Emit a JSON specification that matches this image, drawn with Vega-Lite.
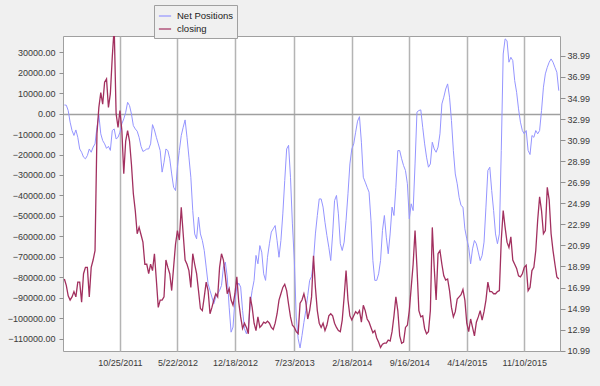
{
  "$schema": "https://vega.github.io/schema/vega-lite/v6.json",
  "width": 497,
  "height": 315,
  "autosize": {"type": "none"},
  "padding": {"left": 63, "top": 36, "right": 40, "bottom": 35},
  "background": "#f0f0f0",
  "config": {
    "view": {"fill": "white", "stroke": "#a0a0a0", "strokeWidth": 1},
    "font": "Liberation Sans",
    "axis": {"labelFont": "Liberation Sans", "labelFontSize": 9, "labelColor": "#3a3a3a", "domain": false, "tickColor": "#909090", "title": null}
  },
  "data": {"values": [
    {"d":"2011-04-05","n":4200,"c":17.8},{"d":"2011-04-12","n":4100,"c":17.2},{"d":"2011-04-19","n":1500,"c":16.2},{"d":"2011-04-26","n":-4200,"c":15.8},
    {"d":"2011-05-03","n":-8300,"c":16.1},{"d":"2011-05-10","n":-10700,"c":16.6},{"d":"2011-05-17","n":-8000,"c":16.1},{"d":"2011-05-24","n":-11600,"c":17.5},{"d":"2011-05-31","n":-17300,"c":17.5},
    {"d":"2011-06-07","n":-18900,"c":15.6},{"d":"2011-06-14","n":-21300,"c":18.3},{"d":"2011-06-21","n":-22100,"c":18.9},{"d":"2011-06-28","n":-20500,"c":18.9},
    {"d":"2011-07-05","n":-17300,"c":16.1},{"d":"2011-07-12","n":-18900,"c":18.9},{"d":"2011-07-19","n":-16400,"c":19.6},{"d":"2011-07-26","n":-14800,"c":20.5},
    {"d":"2011-08-02","n":-6700,"c":31.6},{"d":"2011-08-09","n":-800,"c":34.1},{"d":"2011-08-16","n":-9900,"c":35.5},{"d":"2011-08-23","n":-13200,"c":34.4},{"d":"2011-08-30","n":-14800,"c":36.5},
    {"d":"2011-09-06","n":-17000,"c":36.8},{"d":"2011-09-13","n":-16000,"c":34.1},{"d":"2011-09-20","n":-18000,"c":35.4},{"d":"2011-09-27","n":-8300,"c":38.9},
    {"d":"2011-10-04","n":-7500,"c":41.7},{"d":"2011-10-11","n":-12400,"c":33.5},{"d":"2011-10-18","n":-11600,"c":32.2},{"d":"2011-10-25","n":-9100,"c":33.8},
    {"d":"2011-11-01","n":-5000,"c":31.9},{"d":"2011-11-08","n":-2600,"c":27.8},{"d":"2011-11-15","n":600,"c":30.9},{"d":"2011-11-22","n":5500,"c":31.9},{"d":"2011-11-29","n":3900,"c":30.9},
    {"d":"2011-12-06","n":-200,"c":28.7},{"d":"2011-12-13","n":-5900,"c":25.9},{"d":"2011-12-20","n":-7500,"c":24.3},{"d":"2011-12-27","n":-8600,"c":22.1},
    {"d":"2012-01-03","n":-11600,"c":22.7},{"d":"2012-01-10","n":-16000,"c":22.0},{"d":"2012-01-17","n":-18500,"c":21.3},{"d":"2012-01-24","n":-18000,"c":19.2},{"d":"2012-01-31","n":-17300,"c":19.2},
    {"d":"2012-02-07","n":-17300,"c":18.3},{"d":"2012-02-14","n":-14800,"c":19.2},{"d":"2012-02-21","n":-5400,"c":18.6},{"d":"2012-02-28","n":-8000,"c":20.2},
    {"d":"2012-03-06","n":-11600,"c":17.7},{"d":"2012-03-13","n":-14800,"c":15.1},{"d":"2012-03-20","n":-18100,"c":15.8},{"d":"2012-03-27","n":-28600,"c":15.8},
    {"d":"2012-04-03","n":-23800,"c":16.1},{"d":"2012-04-10","n":-17300,"c":19.6},{"d":"2012-04-17","n":-18100,"c":18.9},{"d":"2012-04-24","n":-22100,"c":18.3},
    {"d":"2012-05-01","n":-29500,"c":16.7},{"d":"2012-05-08","n":-36000,"c":18.9},{"d":"2012-05-15","n":-37600,"c":21.1},{"d":"2012-05-22","n":-26200,"c":22.4},{"d":"2012-05-29","n":-18100,"c":21.5},
    {"d":"2012-06-05","n":-10700,"c":24.6},{"d":"2012-06-12","n":-6700,"c":22.1},{"d":"2012-06-19","n":-3100,"c":19.6},{"d":"2012-06-26","n":-11600,"c":19.2},
    {"d":"2012-07-03","n":-21300,"c":18.6},{"d":"2012-07-10","n":-31100,"c":17.0},{"d":"2012-07-17","n":-47400,"c":20.2},{"d":"2012-07-24","n":-58800,"c":19.2},{"d":"2012-07-31","n":-61200,"c":18.3},
    {"d":"2012-08-07","n":-50600,"c":16.7},{"d":"2012-08-14","n":-58800,"c":15.0},{"d":"2012-08-21","n":-62000,"c":14.8},{"d":"2012-08-28","n":-66900,"c":16.1},
    {"d":"2012-09-04","n":-75000,"c":17.5},{"d":"2012-09-11","n":-83200,"c":16.7},{"d":"2012-09-18","n":-86400,"c":14.5},{"d":"2012-09-25","n":-89700,"c":15.1},
    {"d":"2012-10-02","n":-92900,"c":15.8},{"d":"2012-10-09","n":-89700,"c":16.4},{"d":"2012-10-16","n":-88100,"c":16.1},{"d":"2012-10-23","n":-86400,"c":18.9},{"d":"2012-10-30","n":-84000,"c":20.2},
    {"d":"2012-11-06","n":-75000,"c":19.6},{"d":"2012-11-13","n":-72600,"c":18.1},{"d":"2012-11-20","n":-79900,"c":16.4},{"d":"2012-11-27","n":-94600,"c":16.9},
    {"d":"2012-12-04","n":-106800,"c":15.8},{"d":"2012-12-11","n":-104300,"c":15.3},{"d":"2012-12-18","n":-91300,"c":16.4},{"d":"2012-12-25","n":-84800,"c":18.0},
    {"d":"2013-01-01","n":-82800,"c":15.6},{"d":"2013-01-08","n":-84800,"c":14.2},{"d":"2013-01-15","n":-96200,"c":13.1},{"d":"2013-01-22","n":-105100,"c":13.6},{"d":"2013-01-29","n":-107600,"c":13.2},
    {"d":"2013-02-05","n":-104300,"c":12.6},{"d":"2013-02-12","n":-92900,"c":16.1},{"d":"2013-02-19","n":-86400,"c":15.1},{"d":"2013-02-26","n":-81500,"c":13.6},
    {"d":"2013-03-05","n":-69300,"c":12.9},{"d":"2013-03-12","n":-73400,"c":14.2},{"d":"2013-03-19","n":-64500,"c":13.2},{"d":"2013-03-26","n":-67700,"c":13.4},
    {"d":"2013-04-02","n":-78300,"c":13.7},{"d":"2013-04-09","n":-81500,"c":13.6},{"d":"2013-04-16","n":-70200,"c":13.8},{"d":"2013-04-23","n":-63600,"c":13.6},{"d":"2013-04-30","n":-57900,"c":13.2},
    {"d":"2013-05-07","n":-56300,"c":13.0},{"d":"2013-05-14","n":-54700,"c":13.6},{"d":"2013-05-21","n":-62000,"c":14.5},{"d":"2013-05-28","n":-70200,"c":15.8},
    {"d":"2013-06-04","n":-62000,"c":16.4},{"d":"2013-06-11","n":-49000,"c":17.0},{"d":"2013-06-18","n":-32700,"c":17.3},{"d":"2013-06-25","n":-17300,"c":16.7},
    {"d":"2013-07-02","n":-15500,"c":15.4},{"d":"2013-07-09","n":-31100,"c":14.2},{"d":"2013-07-16","n":-53900,"c":13.4},{"d":"2013-07-23","n":-71800,"c":13.2},{"d":"2013-07-30","n":-99400,"c":12.8},
    {"d":"2013-08-06","n":-110000,"c":12.6},{"d":"2013-08-13","n":-114500,"c":15.5},{"d":"2013-08-20","n":-108500,"c":15.8},{"d":"2013-08-27","n":-102000,"c":16.4},
    {"d":"2013-09-03","n":-96200,"c":15.6},{"d":"2013-09-10","n":-88900,"c":14.0},{"d":"2013-09-17","n":-81500,"c":14.8},{"d":"2013-09-24","n":-79600,"c":16.1},
    {"d":"2013-10-01","n":-71800,"c":20.0},{"d":"2013-10-08","n":-58800,"c":17.0},{"d":"2013-10-15","n":-49800,"c":14.8},{"d":"2013-10-22","n":-41700,"c":13.6},{"d":"2013-10-29","n":-41700,"c":13.2},
    {"d":"2013-11-05","n":-45700,"c":13.6},{"d":"2013-11-12","n":-53100,"c":12.9},{"d":"2013-11-19","n":-59600,"c":13.4},{"d":"2013-11-26","n":-65300,"c":14.3},
    {"d":"2013-12-03","n":-71800,"c":14.5},{"d":"2013-12-10","n":-58800,"c":14.3},{"d":"2013-12-17","n":-42500,"c":13.6},{"d":"2013-12-24","n":-40000,"c":13.2},{"d":"2013-12-31","n":-49000,"c":12.9},
    {"d":"2014-01-07","n":-63600,"c":12.8},{"d":"2014-01-14","n":-66900,"c":13.9},{"d":"2014-01-21","n":-62800,"c":16.1},{"d":"2014-01-28","n":-52200,"c":18.6},
    {"d":"2014-02-04","n":-39200,"c":15.8},{"d":"2014-02-11","n":-24600,"c":14.3},{"d":"2014-02-18","n":-17300,"c":13.9},{"d":"2014-02-25","n":-14800,"c":14.3},
    {"d":"2014-03-04","n":-9100,"c":14.7},{"d":"2014-03-11","n":-3700,"c":14.5},{"d":"2014-03-18","n":-1500,"c":14.8},{"d":"2014-03-25","n":-14000,"c":13.7},
    {"d":"2014-04-01","n":-31100,"c":15.3},{"d":"2014-04-08","n":-33500,"c":14.8},{"d":"2014-04-15","n":-36000,"c":14.0},{"d":"2014-04-22","n":-38400,"c":13.7},{"d":"2014-04-29","n":-52200,"c":13.2},
    {"d":"2014-05-06","n":-71800,"c":12.7},{"d":"2014-05-13","n":-81500,"c":12.9},{"d":"2014-05-20","n":-81500,"c":12.2},{"d":"2014-05-27","n":-78300,"c":11.8},
    {"d":"2014-06-03","n":-71800,"c":11.3},{"d":"2014-06-10","n":-57100,"c":11.6},{"d":"2014-06-17","n":-49800,"c":11.7},{"d":"2014-06-24","n":-60400,"c":11.7},
    {"d":"2014-07-01","n":-68500,"c":12.0},{"d":"2014-07-08","n":-58800,"c":11.9},{"d":"2014-07-15","n":-45700,"c":12.8},{"d":"2014-07-22","n":-49800,"c":14.3},{"d":"2014-07-29","n":-36000,"c":16.1},
    {"d":"2014-08-05","n":-18100,"c":14.8},{"d":"2014-08-12","n":-18100,"c":12.4},{"d":"2014-08-19","n":-22100,"c":11.7},{"d":"2014-08-26","n":-25400,"c":11.8},
    {"d":"2014-09-02","n":-27800,"c":13.2},{"d":"2014-09-09","n":-34300,"c":13.4},{"d":"2014-09-16","n":-51400,"c":14.8},{"d":"2014-09-23","n":-44100,"c":17.0},{"d":"2014-09-30","n":-47400,"c":19.2},
    {"d":"2014-10-07","n":-24600,"c":22.4},{"d":"2014-10-14","n":700,"c":18.9},{"d":"2014-10-21","n":1500,"c":14.8},{"d":"2014-10-28","n":1800,"c":14.2},
    {"d":"2014-11-04","n":-6700,"c":14.3},{"d":"2014-11-11","n":-14800,"c":13.1},{"d":"2014-11-18","n":-21300,"c":12.6},{"d":"2014-11-25","n":-26200,"c":12.8},
    {"d":"2014-12-02","n":-24600,"c":14.8},{"d":"2014-12-09","n":-14000,"c":22.7},{"d":"2014-12-16","n":-17300,"c":18.9},{"d":"2014-12-23","n":-18900,"c":15.8},{"d":"2014-12-30","n":-16400,"c":20.2},
    {"d":"2015-01-06","n":-9900,"c":20.5},{"d":"2015-01-13","n":4700,"c":19.2},{"d":"2015-01-20","n":8000,"c":18.1},{"d":"2015-01-27","n":12000,"c":17.7},
    {"d":"2015-02-03","n":14500,"c":17.8},{"d":"2015-02-10","n":8000,"c":16.7},{"d":"2015-02-17","n":-3400,"c":15.1},{"d":"2015-02-24","n":-18100,"c":14.2},
    {"d":"2015-03-03","n":-29500,"c":14.7},{"d":"2015-03-10","n":-34300,"c":15.9},{"d":"2015-03-17","n":-40900,"c":16.1},{"d":"2015-03-24","n":-44900,"c":16.3},{"d":"2015-03-31","n":-45700,"c":16.8},
    {"d":"2015-04-07","n":-56300,"c":15.8},{"d":"2015-04-14","n":-61200,"c":13.6},{"d":"2015-04-21","n":-65300,"c":12.8},{"d":"2015-04-28","n":-73400,"c":14.0},
    {"d":"2015-05-05","n":-66100,"c":13.2},{"d":"2015-05-12","n":-62000,"c":12.4},{"d":"2015-05-19","n":-63600,"c":13.7},{"d":"2015-05-26","n":-67700,"c":14.2},
    {"d":"2015-06-02","n":-71800,"c":14.8},{"d":"2015-06-09","n":-69300,"c":13.9},{"d":"2015-06-16","n":-62800,"c":14.7},{"d":"2015-06-23","n":-45700,"c":15.8},{"d":"2015-06-30","n":-27800,"c":17.5},
    {"d":"2015-07-07","n":-26200,"c":16.6},{"d":"2015-07-14","n":-37600,"c":16.6},{"d":"2015-07-21","n":-47400,"c":16.4},{"d":"2015-07-28","n":-58800,"c":16.4},
    {"d":"2015-08-04","n":-63600,"c":16.6},{"d":"2015-08-11","n":-58800,"c":16.7},{"d":"2015-08-18","n":-18100,"c":21.5},{"d":"2015-08-25","n":29100,"c":24.3},
    {"d":"2015-09-01","n":36500,"c":22.7},{"d":"2015-09-08","n":35600,"c":21.3},{"d":"2015-09-15","n":25100,"c":20.8},{"d":"2015-09-22","n":27500,"c":21.8},{"d":"2015-09-29","n":25900,"c":19.6},
    {"d":"2015-10-06","n":16100,"c":19.2},{"d":"2015-10-13","n":10400,"c":18.8},{"d":"2015-10-20","n":2300,"c":18.1},{"d":"2015-10-27","n":-4200,"c":18.0},
    {"d":"2015-11-03","n":-8300,"c":18.3},{"d":"2015-11-10","n":-9900,"c":18.9},{"d":"2015-11-17","n":-8300,"c":19.1},{"d":"2015-11-24","n":-18000,"c":16.7},
    {"d":"2015-12-01","n":-20000,"c":17.0},{"d":"2015-12-08","n":-10700,"c":18.6},{"d":"2015-12-15","n":-11600,"c":18.9},{"d":"2015-12-22","n":-8300,"c":20.5},{"d":"2015-12-29","n":-9900,"c":23.4},
    {"d":"2016-01-05","n":-8300,"c":25.6},{"d":"2016-01-12","n":1500,"c":24.3},{"d":"2016-01-19","n":12900,"c":22.1},{"d":"2016-01-26","n":19400,"c":22.4},
    {"d":"2016-02-02","n":22600,"c":26.5},{"d":"2016-02-09","n":25100,"c":25.3},{"d":"2016-02-16","n":26700,"c":22.1},{"d":"2016-02-23","n":25100,"c":20.5},
    {"d":"2016-03-01","n":22600,"c":19.2},{"d":"2016-03-08","n":20200,"c":18.0},{"d":"2016-03-15","n":11200,"c":17.8}
  ]},
  "encoding": {
    "x": {
      "field": "d", "type": "temporal",
      "scale": {"type": "utc", "domain": [{"year": 2011, "month": 3, "date": 31, "utc": true}, {"year": 2016, "month": 3, "date": 19, "hours": 12, "utc": true}]},
      "axis": {
        "values": [
          {"year": 2011, "month": 10, "date": 25, "utc": true},
          {"year": 2012, "month": 5, "date": 22, "utc": true},
          {"year": 2012, "month": 12, "date": 18, "utc": true},
          {"year": 2013, "month": 7, "date": 23, "utc": true},
          {"year": 2014, "month": 2, "date": 18, "utc": true},
          {"year": 2014, "month": 9, "date": 16, "utc": true},
          {"year": 2015, "month": 4, "date": 14, "utc": true},
          {"year": 2015, "month": 11, "date": 10, "utc": true}
        ],
        "labelExpr": "utcFormat(datum.value, '%-m/%-d/%Y')",
        "ticks": false, "labelPadding": 7, "grid": true, "gridColor": "#b4b4b4", "gridWidth": 1.5, "labelFlush": false
      }
    }
  },
  "layer": [
    {
      "mark": {"type": "line", "strokeWidth": 1, "clip": true},
      "encoding": {
        "y": {
          "field": "n", "type": "quantitative",
          "scale": {"domain": [-116000, 37900], "nice": false, "zero": false},
          "axis": {
            "orient": "left",
            "values": [-110000, -100000, -90000, -80000, -70000, -60000, -50000, -40000, -30000, -20000, -10000, 0, 10000, 20000, 30000],
            "format": ".2f", "tickSize": 4, "labelPadding": 4,
            "grid": true, "gridColor": "#a0a0a0", "gridWidth": 1.5,
            "gridOpacity": {"condition": {"test": "datum.value === 0", "value": 1}, "value": 0}
          }
        },
        "color": {
          "datum": "Net Positions", "type": "nominal",
          "scale": {"domain": ["Net Positions", "closing"], "range": ["#9595ff", "#a2305f"]},
          "legend": {
            "orient": "none", "legendX": 91, "legendY": -31, "title": null,
            "symbolType": "stroke", "symbolSize": 150, "symbolStrokeWidth": 1.2,
            "labelFont": "Liberation Sans", "labelFontSize": 9.5, "labelColor": "#222222",
            "fillColor": "#f0f0f0", "strokeColor": "#a0a0a0", "padding": 4,
            "rowPadding": 1, "labelOffset": 5, "direction": "vertical"
          }
        }
      }
    },
    {
      "mark": {"type": "line", "strokeWidth": 1.3, "clip": true},
      "encoding": {
        "y": {
          "field": "c", "type": "quantitative",
          "scale": {"domain": [10.96, 40.88], "nice": false, "zero": false},
          "axis": {
            "orient": "right",
            "values": [10.99, 12.99, 14.99, 16.99, 18.99, 20.99, 22.99, 24.99, 26.99, 28.99, 30.99, 32.99, 34.99, 36.99, 38.99],
            "format": ".2f", "tickSize": 5, "labelPadding": 2, "grid": false
          }
        },
        "color": {"datum": "closing", "type": "nominal"}
      }
    }
  ],
  "resolve": {"scale": {"y": "independent"}}
}
